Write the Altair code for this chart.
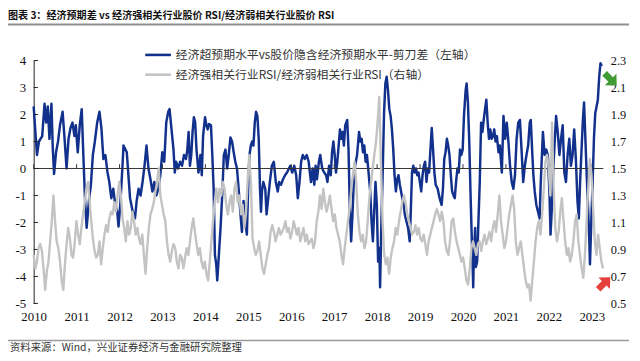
import altair as alt
import pandas as pd

# ---------------- data ----------------
years = list(range(2010, 2024))
left_ticks = [-5, -4, -3, -2, -1, 0, 1, 2, 3, 4]
right_ticks = [0.5, 0.7, 0.9, 1.1, 1.3, 1.5, 1.7, 1.9, 2.1, 2.3]

S1 = "经济超预期水平vs股价隐含经济预期水平-剪刀差（左轴）"
S2 = "经济强相关行业RSI/经济弱相关行业RSI（右轴）"
TITLE = "图表 3：经济预期差 vs 经济强相关行业股价 RSI/经济弱相关行业股价 RSI"
SOURCE = "资料来源：Wind，兴业证券经济与金融研究院整理"

# blue series (left axis), decimal years
blue_t = [
    2010.000, 2010.046, 2010.077, 2010.123, 2010.199, 2010.253, 2010.291, 2010.329, 2010.368, 2010.414,
    2010.444, 2010.475, 2010.521, 2010.567, 2010.613, 2010.674, 2010.720, 2010.766, 2010.812, 2010.858,
    2010.904, 2010.950, 2010.981, 2011.027, 2011.073, 2011.119, 2011.157, 2011.195, 2011.234, 2011.287,
    2011.333, 2011.379, 2011.425, 2011.479, 2011.533, 2011.578, 2011.624, 2011.670, 2011.716, 2011.762,
    2011.808, 2011.854, 2011.900, 2011.946, 2011.977, 2012.023, 2012.069,
    2012.092, 2012.169, 2012.245, 2012.307, 2012.360, 2012.399, 2012.444, 2012.490, 2012.536, 2012.582,
    2012.628, 2012.674, 2012.720, 2012.766, 2012.812, 2012.858, 2012.904, 2012.950, 2012.996, 2013.042,
    2013.088, 2013.134, 2013.165, 2013.211, 2013.257, 2013.287, 2013.318, 2013.364, 2013.410, 2013.456,
    2013.502, 2013.548, 2013.579, 2013.609, 2013.640, 2013.671, 2013.701, 2013.732, 2013.762, 2013.793,
    2013.839, 2013.885, 2013.916, 2013.946, 2013.992, 2014.023, 2014.054, 2014.084, 2014.130, 2014.161,
    2014.192, 2014.222, 2014.253,
    2014.276, 2014.314, 2014.353, 2014.399, 2014.429, 2014.468, 2014.506, 2014.544, 2014.583, 2014.621,
    2014.659, 2014.697, 2014.736, 2014.774, 2014.812, 2014.851, 2014.889, 2014.927, 2014.966, 2014.996,
    2015.027, 2015.058, 2015.088, 2015.119, 2015.150, 2015.180, 2015.211, 2015.242, 2015.272, 2015.295,
    2015.318, 2015.349, 2015.395, 2015.425, 2015.464, 2015.502, 2015.548, 2015.594, 2015.640, 2015.686,
    2015.717, 2015.763, 2015.809, 2015.855, 2015.901, 2015.946, 2015.977, 2016.023, 2016.069, 2016.115,
    2016.153, 2016.192, 2016.230, 2016.268, 2016.314, 2016.360, 2016.406, 2016.437,
    2016.460, 2016.498, 2016.537, 2016.567, 2016.598, 2016.644, 2016.675, 2016.721, 2016.767, 2016.812,
    2016.843, 2016.881, 2016.920, 2016.950, 2016.981, 2017.012, 2017.042, 2017.073, 2017.104, 2017.134,
    2017.165, 2017.196, 2017.226, 2017.257, 2017.303, 2017.334, 2017.364, 2017.395, 2017.426, 2017.456,
    2017.487, 2017.533, 2017.579, 2017.609, 2017.640, 2017.671, 2017.701, 2017.732, 2017.763, 2017.801,
    2017.839, 2017.870, 2017.901, 2017.931, 2017.962, 2017.993, 2018.023, 2018.054, 2018.069, 2018.100,
    2018.130, 2018.161, 2018.192, 2018.222, 2018.253, 2018.284, 2018.314, 2018.345, 2018.376, 2018.406,
    2018.437, 2018.468, 2018.498, 2018.529, 2018.575, 2018.621,
    2018.644, 2018.682, 2018.721, 2018.759, 2018.782, 2018.813, 2018.843, 2018.874, 2018.905, 2018.935,
    2018.966, 2018.996, 2019.027, 2019.058, 2019.088, 2019.119, 2019.150, 2019.180, 2019.211, 2019.242,
    2019.272, 2019.303, 2019.334, 2019.364, 2019.410, 2019.456, 2019.502, 2019.533, 2019.564, 2019.594,
    2019.625, 2019.655, 2019.686, 2019.717, 2019.747, 2019.778, 2019.809, 2019.839, 2019.870, 2019.901,
    2019.931, 2019.962, 2019.993, 2020.023, 2020.062, 2020.085, 2020.115, 2020.146, 2020.177, 2020.207,
    2020.223, 2020.238, 2020.253, 2020.284, 2020.299, 2020.330, 2020.360, 2020.391, 2020.422, 2020.452,
    2020.483, 2020.514, 2020.544, 2020.575, 2020.606, 2020.636, 2020.667, 2020.698, 2020.728, 2020.759,
    2020.790,
    2020.828, 2020.859, 2020.905, 2020.943, 2020.981, 2021.020, 2021.058, 2021.096, 2021.135, 2021.173,
    2021.211, 2021.249, 2021.288, 2021.326, 2021.364, 2021.403, 2021.441, 2021.479, 2021.518, 2021.556,
    2021.579, 2021.610, 2021.640, 2021.671, 2021.709, 2021.748, 2021.786, 2021.809, 2021.839, 2021.862,
    2021.901, 2021.939, 2021.977, 2022.016, 2022.039, 2022.069, 2022.100, 2022.131, 2022.169, 2022.207,
    2022.246, 2022.284, 2022.322, 2022.361, 2022.399, 2022.437, 2022.476, 2022.514, 2022.552, 2022.590,
    2022.629, 2022.667, 2022.698, 2022.728, 2022.759, 2022.790, 2022.820, 2022.851, 2022.882, 2022.912,
    2022.943, 2022.958, 2022.989, 2023.020, 2023.050, 2023.081, 2023.112, 2023.142, 2023.173, 2023.203,
    2023.234,
]
blue_v = [
    2.3, 1.2, 0.5, 1.0, 1.2, 2.4, 1.7, 2.3, 1.1, 2.4,
    0.8, -0.2, 0.6, 1.0, 1.6, 2.1, 1.1, 0.0, 1.1, 1.5,
    1.7, 1.2, 1.6, 0.6, 1.6, 2.2, 0.5, -1.1, -2.2, -1.2,
    -0.6, 0.5, 1.0, 1.7, 2.1, 1.5, 0.35, 0.5, -0.1, -0.5,
    -1.1, -0.75, -1.35, -1.6, -2.15, -1.2, 0.1,
    0.85, 0.6, -1.1, -1.6, -1.85, -1.2, -0.75, -1.0, -0.5, 0.1,
    0.85, 0.0, -0.4, -0.85, -0.5, -1.0, -0.75, -0.25, 0.6, 0.25,
    1.7, 2.1, 2.2, 1.45, 0.7, -0.15, 0.25, 0.0, 0.25, 0.1,
    0.5, 0.35, 0.7, 1.35, 0.1, 0.5, 1.35, 1.9, 1.7, 0.7,
    -0.15, 0.5, -0.25, 1.2, 1.9, 1.6, 1.45, 1.65, 1.6, 0.5,
    -0.75, -3.2, -3.55,
    -4.15, -3.2, -2.2, -0.75, 0.5, 0.7, 0.0, 0.5, 1.15, 1.0,
    0.6, 0.25, 0.0, -0.75, -1.6, -2.35, -1.2, -1.95, -2.45, -0.75,
    0.5, 0.85, 1.0, 0.85, 1.7, 2.1, 1.95, 1.1, -0.75, -1.6,
    -0.85, -0.5, -0.75, -1.7, -1.1, -0.5, 0.1, 0.25, -0.5, -0.85,
    -0.5, -0.6, -0.4, -0.25, -0.15, 0.0, 0.1, -0.15, 0.1, -0.25,
    -1.1, -0.5, 0.25, 0.5, 0.35, 0.5, 0.25, -0.2,
    -0.5, 0.0, -0.6, 0.1, -0.4, 0.25, 0.5, 0.0, -0.15, -0.25,
    -0.5, 0.1, -0.25, 0.6, 1.0, 0.5, -0.15, 0.25, 0.85, 1.45,
    1.1, 1.35, 0.85, 1.6, 1.8, 0.7, -1.5, -2.7, -1.7, -0.5,
    0.1, 0.5, 1.35, 1.0, 1.1, 0.6, 0.85, 0.25, 0.5, -0.15,
    -0.85, -1.95, -2.7, -1.6, -0.5, -1.35, -3.45, -2.95, -4.4, -1.95,
    -0.15, 2.05, 3.15, 3.4, 2.9, 2.2, 1.95, 1.45, 0.7, -0.25,
    -0.85, -0.4, -0.25, -0.6, -1.0, -1.35,
    -1.7, -1.95, -2.2, -2.7, -1.7, -0.15, 0.1, -0.15, 0.0, -0.25,
    -0.15, -0.5, -0.85, -0.25, 0.1, 0.25, -0.5, 0.0, -0.15, 0.7,
    1.5, 0.7, -0.15, -0.6, -0.75, -1.1, -1.35, -0.75, 0.35, 0.6,
    1.1, 0.85, 0.5, -0.25, -0.85, -1.0, -1.1, -0.5, 0.0, -0.15,
    0.7, 0.5, 0.7, 1.95, 2.9, 3.15, 2.45, 1.0, -1.0, -2.7,
    -3.45, -4.4, -3.2, -2.2, -3.65, -3.45, -1.95, -0.5, 1.7, 1.35,
    1.8, 2.2, 2.55, 1.7, 1.1, 1.45, 1.1, 1.2, 1.45, 1.0,
    1.2,
    0.6, 0.85, -0.15, 1.95, 1.1, 1.7, 1.0, 0.1, -0.5, -0.75,
    -0.25, 1.1, 1.7, 1.8, 0.7, -0.5, 0.1, 0.5, 0.85, 1.7,
    1.8, 0.7, -0.25, -0.85, -1.35, -1.6, -1.85, -0.6, 0.5, 1.35,
    0.5, 0.7, 0.5, -1.0, -2.45, -1.5, -0.15, 0.85, 1.95, 1.35,
    0.5, 1.1, 1.6, -0.15, -0.5, 0.5, 1.1, 0.1, 0.5, 1.45,
    0.35, -1.2, -1.85, -0.5, 0.6, 1.7, 2.45, 1.1, -0.25, -1.35,
    -2.7, -3.55, -1.95, -0.5, 1.1, 2.05, 2.3, 2.55, 3.4, 3.9,
    3.8,
]

# gray series (right axis), bi-weekly from 2010-01-01
gray_start = "2010-01-01"
gray_r = [
    0.86, 0.76, 0.81, 0.91, 0.94, 0.89, 0.76, 0.60, 0.74, 0.81,
    0.96, 1.11, 1.30, 1.11, 0.96, 0.91, 0.81, 0.67, 0.60, 0.79,
    0.94, 1.06, 0.98, 0.86, 0.84, 0.96, 1.11, 1.01, 0.94, 1.06,
    1.16, 1.25, 1.35, 1.40, 1.25, 1.11, 0.98, 0.89, 0.84, 0.86,
    0.96, 0.79, 0.91, 1.01, 1.08, 1.03, 1.13, 1.18, 1.16, 1.25,
    1.18, 1.30, 1.40, 1.30, 1.13,
    1.06, 0.96, 1.11, 1.01, 1.06, 1.18, 1.11, 1.01, 1.06, 0.98,
    0.94, 1.01, 0.86, 0.72, 0.91, 1.06, 1.16, 1.20, 1.25, 1.33,
    1.40, 1.50, 1.30, 1.23, 1.16, 1.11, 0.96, 0.86, 0.81, 0.89,
    0.94, 0.91, 0.81, 0.76, 0.86, 0.84, 0.76, 0.84, 0.91, 0.86,
    0.96, 1.06, 1.13, 1.03, 0.94, 0.86, 0.91, 0.81, 0.76, 0.81,
    0.72, 0.67, 0.81, 0.96, 1.11, 1.25, 1.35,
    1.25, 1.35, 1.30, 1.40, 1.35, 1.23, 1.16, 1.25, 1.30, 1.18,
    1.35, 1.40, 1.25, 1.30, 1.16, 1.23, 1.06, 1.16, 1.40, 1.60,
    1.40, 0.98, 0.91, 0.86, 0.89, 0.96, 0.86, 0.76, 0.72, 0.79,
    0.86, 0.91, 1.03, 1.08, 1.03, 0.96, 1.01, 1.06, 1.01, 1.03,
    1.06, 1.11, 1.03, 1.06, 0.98, 1.03, 1.11, 1.06, 1.01, 1.06,
    0.96, 1.01, 1.06, 0.96, 1.01, 0.94, 0.96,
    0.98, 0.91, 0.96, 1.11, 1.18, 1.30, 1.20, 1.35, 1.25, 1.18,
    1.23, 1.30, 1.20, 1.11, 1.16, 1.06, 1.01, 0.96, 0.86, 0.79,
    0.91, 1.01, 1.11, 1.20, 1.35, 1.45, 1.55, 1.40, 1.16, 1.03,
    0.96, 1.01, 0.91, 0.96, 1.11, 1.28, 1.40, 1.50, 1.60, 1.69,
    1.84, 2.03, 1.55, 1.12, 0.86, 0.79, 0.84, 0.72, 0.84, 0.91,
    0.96, 1.06, 1.01, 1.11, 1.18, 1.25, 1.30,
    1.25, 1.16, 1.11, 1.06, 1.01, 1.03, 1.08, 1.01, 1.06, 0.98,
    0.96, 1.01, 0.94, 0.86, 0.96, 1.01, 1.06, 1.11, 1.16, 1.20,
    1.16, 1.11, 1.18, 1.11, 0.96, 0.89, 0.86, 0.96, 1.11, 1.13,
    1.03, 0.96, 0.91, 0.86, 0.81, 0.84, 0.76, 0.67, 0.64, 0.76,
    0.91, 0.96, 0.91, 0.86, 0.94, 0.96, 0.89, 0.96, 1.01, 0.94,
    0.98, 1.03, 0.96, 1.06, 1.11, 1.03, 1.16,
    1.30, 1.11, 1.01, 0.91, 0.96, 1.06, 1.16, 1.23, 1.30, 1.20,
    0.96, 0.86, 0.91, 0.96, 0.86, 0.76, 0.67, 0.62, 0.64, 0.52,
    0.67, 0.81, 0.96, 1.06, 1.11, 1.01, 1.16, 1.35, 1.55, 1.60,
    1.50, 1.30, 1.84, 1.35, 1.06, 0.96, 1.03, 1.18, 1.28, 1.11,
    0.96, 0.86, 0.91, 0.81, 0.86, 0.96, 1.11, 1.16, 0.96, 0.86,
    0.76, 0.69, 0.86, 1.11, 1.35, 1.57, 1.45, 1.20, 0.96, 0.86,
    1.01, 0.91, 0.81, 0.76,
]

# annotation arrows (position in data units, direction in degrees)
arrow_t = [2023.44, 2023.29]
arrow_v = [3.3, -4.25]
arrow_angle = [135, 45]
arrow_color = ["#3f9c35", "#e5403a"]

# ---------------- styling ----------------
BLUE = "#12318d"
GRAY = "#c3c3c3"
NUM_FONT = "Liberation Serif"
CJK_FONT = "Noto Sans CJK SC"
X_DOMAIN = [2010, 2023.27]
L_DOMAIN = [-5, 4]
R_DOMAIN = [0.5, 2.3]

xs = alt.Scale(domain=X_DOMAIN, nice=False, zero=False)
ls = alt.Scale(domain=L_DOMAIN, nice=False, zero=False)
rs = alt.Scale(domain=R_DOMAIN, nice=False, zero=False)

blue_df = pd.DataFrame({"t": blue_t, "v": blue_v})
gdates = pd.date_range(gray_start, periods=len(gray_r), freq="14D")
gray_df = pd.DataFrame({
    "t": 2010 + (gdates - pd.Timestamp(gray_start)).days / 365.25,
    "r": gray_r,
})

xaxis = alt.Axis(values=years, format="d", title=None, domain=False, ticks=False,
                 grid=False, labelFont=NUM_FONT, labelFontSize=13, labelColor="#111",
                 labelPadding=7, labelFlush=False, labelOverlap=False)
laxis = alt.Axis(values=left_ticks, title=None, grid=False, ticks=False, domain=True,
                 domainColor="#222", domainWidth=1, labelFont=NUM_FONT, labelFontSize=13,
                 labelColor="#111", labelPadding=8, labelOverlap=False, labelFlush=False,
                 labelBound=False, labelExpr="toString(datum.value)")
raxis = alt.Axis(orient="right", values=right_ticks, format=".1f", title=None, grid=False,
                 ticks=False, domain=False, labelFont=NUM_FONT, labelFontSize=12.5,
                 labelColor="#111", labelPadding=7, labelOverlap=False, labelFlush=False)

X = lambda f: alt.X(f, scale=xs, axis=xaxis)
YL = lambda f: alt.Y(f, scale=ls, axis=laxis)

blue = alt.Chart(blue_df).mark_line(color=BLUE, strokeWidth=2.5, strokeJoin="round").encode(
    x=X("t:Q"), y=YL("v:Q"),
)

zero = alt.Chart(pd.DataFrame({"t": [X_DOMAIN[0], X_DOMAIN[1]], "v": [0, 0]})
                 ).mark_line(color="#333", strokeWidth=1).encode(x=X("t:Q"), y=YL("v:Q"))

xt = alt.Chart(pd.DataFrame({"t": years, "v": [0] * len(years), "v2": [0.16] * len(years)})
               ).mark_rule(color="#333", strokeWidth=1).encode(
    x=X("t:Q"), y=YL("v:Q"), y2="v2:Q"
)

lt = alt.Chart(pd.DataFrame({"v": left_ticks, "t": [2010] * len(left_ticks),
                             "t2": [2010.1] * len(left_ticks)})
               ).mark_rule(color="#222", strokeWidth=1).encode(
    x=X("t:Q"), x2="t2:Q", y=YL("v:Q")
)

ARROW = "M -0.38 1 L -0.38 0 L -0.95 0 L 0 -1 L 0.95 0 L 0.38 0 L 0.38 1 Z"
arrows = alt.Chart(pd.DataFrame({"t": arrow_t, "v": arrow_v, "a": arrow_angle, "c": arrow_color})
                   ).mark_point(shape=ARROW, filled=True, size=300, opacity=1, clip=False).encode(
    x=X("t:Q"), y=YL("v:Q"),
    angle=alt.Angle("a:Q", scale=None), color=alt.Color("c:N", scale=None),
)

def txt(s, x, y, size, color="#333", weight="normal"):
    return alt.Chart(pd.DataFrame({"s": [s]})).mark_text(
        align="left", baseline="middle", font=CJK_FONT, fontSize=size,
        fontWeight=weight, color=color,
    ).encode(x=alt.value(x), y=alt.value(y), text="s:N")

def hline(x1, x2, y, color, w):
    return alt.Chart(pd.DataFrame({"d": [0]})).mark_rule(color=color, strokeWidth=w).encode(
        x=alt.value(x1), x2=alt.value(x2), y=alt.value(y))

title = txt(TITLE, -26, -45, 10.2, "#111", "bold")
top_line = hline(-31, 603, -36.5, "#8f8f8f", 2)
bottom_line = hline(-31, 603, 283.5, "#9a9a9a", 1.5)
source = txt(SOURCE, -24, 291, 10.5, "#333")
leg1_line = hline(113, 139, -5.7, BLUE, 2.6)
leg2_line = hline(113, 139, 14.3, GRAY, 2.6)
leg1 = txt(S1, 144, -5.7, 12, "#333")
leg2 = txt(S2, 144, 14.3, 12, "#333")

left_group = alt.layer(blue, zero, xt, lt, arrows, title, top_line, bottom_line, source,
                       leg1_line, leg2_line, leg1, leg2)

gray = alt.Chart(gray_df).mark_line(color=GRAY, strokeWidth=2.4, strokeJoin="round").encode(
    x=X("t:Q"),
    y=alt.Y("r:Q", scale=rs, axis=raxis),
)

chart = alt.layer(left_group, gray).resolve_scale(y="independent").properties(
    width=577, height=246,
    padding={"left": 26, "top": 51, "right": 29, "bottom": 50},
    autosize=alt.AutoSizeParams(type="none"),
    background="white",
).configure_view(stroke=None).configure_axis(labelOverlap=False)

chart.save("out.html", embed_options={"renderer": "svg", "actions": False})
